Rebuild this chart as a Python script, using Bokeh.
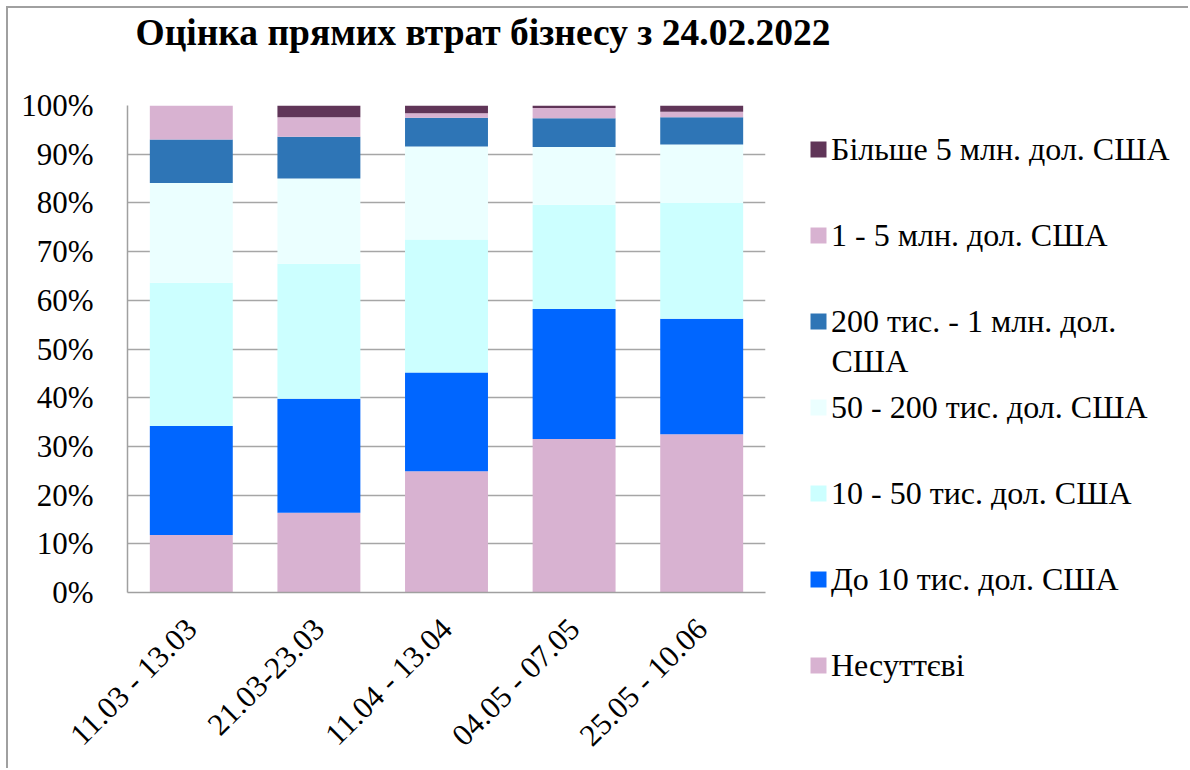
from bokeh.plotting import figure
from bokeh.layouts import column, row
from bokeh.models import (ColumnDataSource, FactorRange, Range1d, FixedTicker,
                          PrintfTickFormatter, Legend, LegendItem, Label)
from bokeh.embed import file_html
from bokeh.resources import INLINE

title_text = "Оцінка прямих втрат бізнесу з 24.02.2022"
periods = ["11.03 - 13.03", "21.03-23.03", "11.04 - 13.04", "04.05 - 07.05", "25.05 - 10.06"]

nesuttyevi = [11.8, 16.4, 24.9, 31.5, 32.5]
do_10k = [22.4, 23.4, 20.3, 26.7, 23.7]
k10_50 = [29.4, 27.7, 27.3, 21.4, 23.8]
k50_200 = [20.5, 17.5, 19.1, 11.9, 12.0]
k200_1m = [8.9, 8.6, 5.9, 5.9, 5.6]
m1_5 = [7.0, 4.0, 0.9, 2.1, 1.1]
m5_plus = [0.0, 2.4, 1.6, 0.5, 1.3]

series_keys = ["nes", "d10", "k1050", "k50200", "k2001m", "m15", "m5"]
series_labels = ["Несуттєві", "До 10 тис. дол. США", "10 - 50 тис. дол. США",
                 "50 - 200 тис. дол. США", "200 тис. - 1 млн. дол.\nСША",
                 "1 - 5 млн. дол. США", "Більше 5 млн. дол. США"]
colors = ["#D8B2D1", "#0066FF", "#CCFFFF", "#EBFFFF", "#2E75B6", "#D8B2D1", "#603558"]

y_ticks = [0, 10, 20, 30, 40, 50, 60, 70, 80, 90, 100]

source = ColumnDataSource(dict(period=periods, nes=nesuttyevi, d10=do_10k, k1050=k10_50,
                               k50200=k50_200, k2001m=k200_1m, m15=m1_5, m5=m5_plus))

FONT = "Liberation Serif"
W, H = 1180, 760
TH = 77            # title strip height
PW = 790           # chart width
CH = H - TH        # chart / legend height


def bare(fig):
    fig.axis.visible = False
    fig.grid.visible = False
    fig.outline_line_color = None
    fig.background_fill_color = "white"
    fig.border_fill_color = "white"


# ---- title strip ----
tf = figure(width=W, height=TH, x_range=Range1d(0, 1), y_range=Range1d(0, 1),
            output_backend="svg", toolbar_location=None, min_border=0, frame_align=False)
bare(tf)
tf.add_layout(Label(x=127, y=53, x_units="screen", y_units="screen", text=title_text,
                    text_font=FONT, text_font_size="37.5px", text_font_style="bold",
                    text_color="black", text_baseline="alphabetic"))

# ---- chart ----
p = figure(x_range=FactorRange(*periods), y_range=Range1d(0, 100),
           width=PW, height=CH, output_backend="svg", toolbar_location=None,
           min_border_left=119, min_border_right=PW - 757, min_border_top=20,
           min_border_bottom=175, frame_align=False)
p.x_range.range_padding = 0.0
p.x_range.factor_padding = 0.0

p.vbar_stack(series_keys, x="period", width=0.65, color=colors, line_color=None, source=source)

p.outline_line_color = None
p.background_fill_color = "white"
p.border_fill_color = "white"

p.xgrid.grid_line_color = None
p.ygrid.grid_line_color = "#A6A6A6"
p.ygrid.grid_line_width = 1.3
p.ygrid.ticker = FixedTicker(ticks=y_ticks)

p.yaxis.ticker = FixedTicker(ticks=y_ticks)
p.yaxis.formatter = PrintfTickFormatter(format="%d%%")
p.yaxis.major_tick_line_color = None
p.yaxis.minor_tick_line_color = None
p.yaxis.axis_line_color = "#A0A0A0"
p.yaxis.axis_line_width = 1.5
p.yaxis.major_label_standoff = 28
p.yaxis.major_label_text_font = FONT
p.yaxis.major_label_text_font_size = "31px"
p.yaxis.major_label_text_color = "black"

p.xaxis.major_tick_line_color = None
p.xaxis.minor_tick_line_color = None
p.xaxis.axis_line_color = "#A0A0A0"
p.xaxis.axis_line_width = 1.5
p.xaxis.major_label_orientation = 0.785398
p.xaxis.major_label_standoff = 25
p.xaxis.major_label_text_font = FONT
p.xaxis.major_label_text_font_size = "31px"
p.xaxis.major_label_text_color = "black"

# ---- legend panel: zero-width swatch renderers, kept outside its visible range ----
lg = figure(width=W - PW, height=CH, x_range=FactorRange(*periods), y_range=Range1d(1000, 1001),
            output_backend="svg", toolbar_location=None, min_border=0, frame_align=False)
bare(lg)
swatches = lg.vbar_stack(series_keys, x="period", width=0.0, color=colors,
                         line_color=None, source=source)

first_lines = [lab.split("\n")[0] for lab in series_labels]
items = [LegendItem(label=first_lines[i], renderers=[swatches[i]])
         for i in reversed(range(len(series_keys)))]
legend = Legend(items=items, location=(10, 60), orientation="vertical",
                glyph_width=20, glyph_height=20, label_height=86, spacing=0,
                label_standoff=3, padding=0, margin=0,
                border_line_color=None, background_fill_alpha=0,
                label_text_font=FONT, label_text_font_size="32px",
                label_text_color="black")
lg.add_layout(legend, "center")

# wrapped second line of the "200 тис. - 1 млн. дол. США" entry
for lab in series_labels:
    if "\n" in lab:
        lg.add_layout(Label(x=33, y=408, x_units="screen", y_units="screen",
                            text=lab.split("\n")[1], text_font=FONT, text_font_size="32px",
                            text_color="black", text_baseline="middle"))

layout = column(tf, row(p, lg))
layout.styles = {"margin-left": "6px", "margin-top": "6px",
                 "border-left": "2px solid #A0A0A0", "border-top": "2px solid #A0A0A0"}

open("out.html", "w").write(file_html(layout, INLINE))
